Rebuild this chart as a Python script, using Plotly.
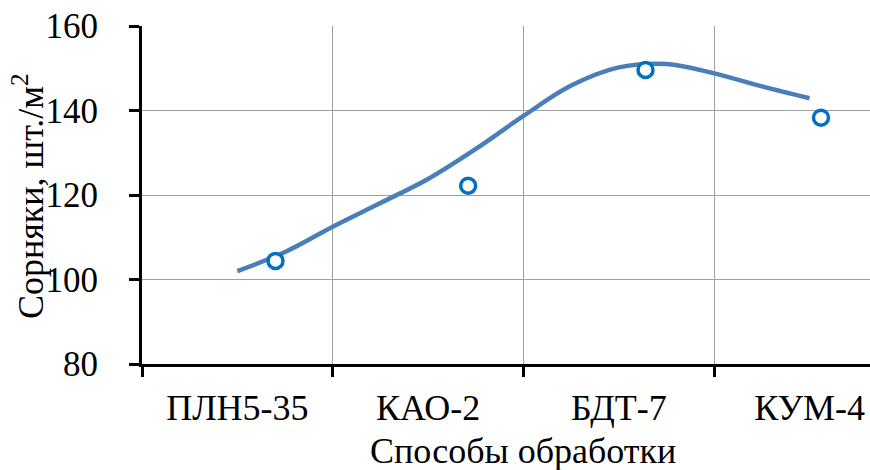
import plotly.graph_objects as go

# Categories and tick labels
categories = ["ПЛН5-35", "КАО-2", "БДТ-7", "КУМ-4"]
category_pos = [0, 1, 2, 3]

# Observed points (marker series), x given in category units
marker_x = [0.20, 1.21, 2.14, 3.06]
marker_y = [104.4, 122.2, 149.6, 138.3]

# Trend curve (x in category units)
trend_x = [0, 0.25, 0.5, 0.75, 1.0, 1.25, 1.5, 1.75, 2.0, 2.25, 2.5, 2.75, 3.0]
trend_y = [102.0, 106.5, 112.5, 118.1, 123.8, 130.9, 138.7, 145.9, 150.2, 151.0, 148.8, 145.7, 142.9]

y_ticks = [80, 100, 120, 140, 160]
boundaries = [-0.5, 0.5, 1.5, 2.5]

FONT = "Liberation Serif, Times New Roman, serif"

fig = go.Figure()
fig.add_trace(go.Scatter(
    x=trend_x, y=trend_y, mode="lines",
    line=dict(color="#4A7EBB", width=4.5, shape="spline", smoothing=1.0),
    hoverinfo="skip", showlegend=False,
))
fig.add_trace(go.Scatter(
    x=marker_x, y=marker_y, mode="markers",
    marker=dict(symbol="circle", size=15, color="white",
                line=dict(color="#0070C0", width=3.5)),
    showlegend=False,
))

fig.update_layout(
    width=870, height=470,
    margin=dict(l=142, r=0, t=26, b=106),
    paper_bgcolor="white", plot_bgcolor="white",
    font=dict(family=FONT, size=35, color="black"),
    xaxis=dict(
        range=[-0.5, 3.317],
        tickmode="array", tickvals=category_pos, ticktext=categories,
        ticks="", showgrid=False, zeroline=False,
        showline=True, linecolor="black", linewidth=3,
        tickfont=dict(family=FONT, size=36),
        ticklabelstandoff=10,
        minor=dict(tickmode="array", tickvals=boundaries, ticks="outside",
                   ticklen=10, tickwidth=3, tickcolor="black",
                   showgrid=True, gridcolor="#A0A0A0", gridwidth=1),
    ),
    yaxis=dict(
        range=[80, 160],
        tickmode="array", tickvals=y_ticks,
        ticks="outside", ticklen=10, tickwidth=3, tickcolor="black",
        showgrid=True, gridcolor="#A0A0A0", gridwidth=1, zeroline=False,
        showline=True, linecolor="black", linewidth=3,
        tickfont=dict(family=FONT, size=35),
        ticklabelstandoff=24,
    ),
    annotations=[
        dict(text="Способы обработки", xref="x", yref="paper",
             x=1.5, y=(364 - 451) / 338, xanchor="center", yanchor="middle",
             showarrow=False, font=dict(family=FONT, size=36, color="black")),
        dict(text="Сорняки, шт./м<sup>2</sup>", xref="paper", yref="paper",
             x=(28 - 142) / 728, y=(364 - 196) / 338, xanchor="center", yanchor="middle",
             textangle=-90, showarrow=False,
             font=dict(family=FONT, size=36, color="black")),
    ],
)

fig.write_html(
    "out.html",
    config={"displayModeBar": False},
    post_script="document.body.style.margin='0';document.body.style.overflow='hidden';",
)
